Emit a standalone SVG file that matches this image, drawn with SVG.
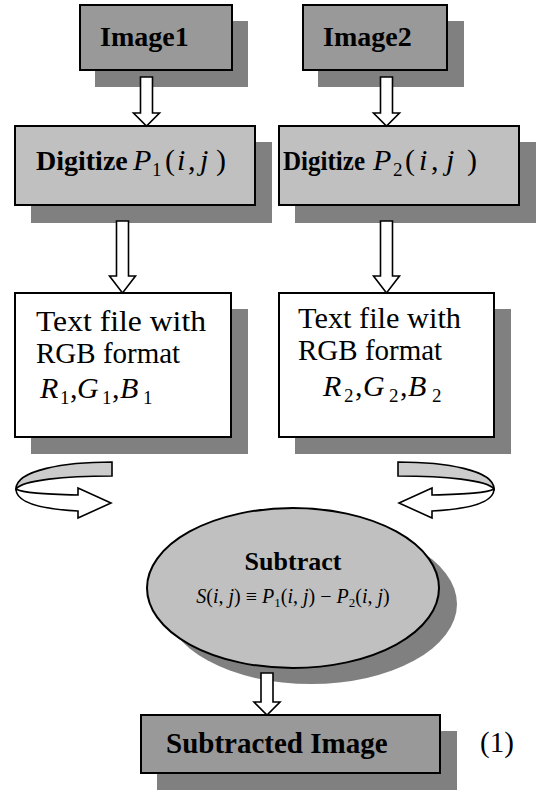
<svg xmlns="http://www.w3.org/2000/svg" width="546" height="812" viewBox="0 0 546 812">
<style>
.shd{fill:#808080;stroke:none}
.dk{fill:#999999;stroke:#000;stroke-width:2}
.lt{fill:#c0c0c0;stroke:#000;stroke-width:2}
.wh{fill:#fff;stroke:#000;stroke-width:2}
.arr{fill:#fff;stroke:#000;stroke-width:1.6;stroke-linejoin:miter}
.band{fill:#cccccc;stroke:#000;stroke-width:1.6}
.b{font-weight:bold;font-size:28px}
.r{font-size:29px}
.m{font-size:30px;font-style:italic}
.mu{font-size:30px;font-style:normal}
.s{font-size:19px;font-style:normal}
</style>
<rect width="546" height="812" fill="#fff"/>
<g font-family="'Liberation Serif', 'DejaVu Serif', serif" fill="#000">
<g id="image1">
<rect class="shd" x="95" y="21" width="153" height="66"/>
<rect class="dk" x="80" y="5" width="152" height="65"/>
<text class="b" x="100" y="46">Image1</text>
</g>
<g id="image2">
<rect class="shd" x="318" y="21" width="146" height="66"/>
<rect class="dk" x="303" y="5" width="144" height="65"/>
<text class="b" x="323" y="46">Image2</text>
</g>
<g id="digitize1">
<rect class="shd" x="31" y="142" width="241" height="81"/>
<rect class="lt" x="15" y="126" width="240" height="79"/>
<text y="170"><tspan class="b" x="36">Digitize</tspan><tspan class="m" x="133">P</tspan><tspan class="s" x="152" dy="6">1</tspan><tspan class="mu" x="165" dy="-6">(</tspan><tspan class="m" x="177">i</tspan><tspan class="mu" x="188">,</tspan><tspan class="m" x="200">j</tspan><tspan class="mu" x="216">)</tspan></text>
</g>
<g id="digitize2">
<rect class="shd" x="295" y="142" width="241" height="81"/>
<rect class="lt" x="279" y="126" width="240" height="79"/>
<text class="b" x="283" y="170" textLength="82" lengthAdjust="spacingAndGlyphs">Digitize</text>
<text y="170"><tspan class="m" x="373">P</tspan><tspan class="s" x="393" dy="6">2</tspan><tspan class="mu" x="405" dy="-6">(</tspan><tspan class="m" x="419">i</tspan><tspan class="mu" x="431">,</tspan><tspan class="m" x="446">j</tspan><tspan class="mu" x="467">)</tspan></text>
</g>
<g id="textfile1">
<rect class="shd" x="31" y="309" width="217" height="145"/>
<rect class="wh" x="15" y="293" width="216" height="144"/>
<text class="r" x="36" y="331" textLength="170" lengthAdjust="spacingAndGlyphs">Text file with</text>
<text class="r" x="36" y="363">RGB format</text>
<text y="398"><tspan class="m" x="40">R</tspan><tspan class="s" x="60" dy="6">1</tspan><tspan class="mu" x="70" dy="-6">,</tspan><tspan class="m" x="77">G</tspan><tspan class="s" x="102" dy="6">1</tspan><tspan class="mu" x="112" dy="-6">,</tspan><tspan class="m" x="120">B</tspan><tspan class="s" x="143" dy="6">1</tspan></text>
</g>
<g id="textfile2">
<rect class="shd" x="295" y="309" width="216" height="145"/>
<rect class="wh" x="279" y="293" width="215" height="144"/>
<text class="r" x="298" y="328" textLength="163" lengthAdjust="spacingAndGlyphs">Text file with</text>
<text class="r" x="298" y="360">RGB format</text>
<text y="396"><tspan class="m" x="323">R</tspan><tspan class="s" x="344" dy="6">2</tspan><tspan class="mu" x="355" dy="-6">,</tspan><tspan class="m" x="363">G</tspan><tspan class="s" x="389" dy="6">2</tspan><tspan class="mu" x="400" dy="-6">,</tspan><tspan class="m" x="408">B</tspan><tspan class="s" x="432" dy="6">2</tspan></text>
</g>
<g id="subtract">
<ellipse class="shd" cx="311" cy="604" rx="146" ry="80"/>
<ellipse class="lt" cx="293" cy="588" rx="146" ry="80"/>
<text class="b" x="293" y="570" text-anchor="middle" style="font-size:26px">Subtract</text>
<text x="293" y="603" text-anchor="middle" style="font-size:20px"><tspan font-style="italic">S</tspan><tspan>(</tspan><tspan font-style="italic">i</tspan><tspan>, </tspan><tspan font-style="italic">j</tspan><tspan>) ≡ </tspan><tspan font-style="italic">P</tspan><tspan dy="4" style="font-size:13px">1</tspan><tspan dy="-4">(</tspan><tspan font-style="italic">i</tspan><tspan>, </tspan><tspan font-style="italic">j</tspan><tspan>) − </tspan><tspan font-style="italic">P</tspan><tspan dy="4" style="font-size:13px">2</tspan><tspan dy="-4">(</tspan><tspan font-style="italic">i</tspan><tspan>, </tspan><tspan font-style="italic">j</tspan><tspan>)</tspan></text>
</g>
<g id="subtracted-image">
<rect class="shd" x="157" y="731" width="300" height="59"/>
<rect class="dk" x="141" y="715" width="299" height="58"/>
<text class="b" x="166" y="753" style="font-size:29px">Subtracted Image</text>
</g>
<g id="label">
<text class="r" x="480" y="752">(1)</text>
</g>
</g>
<g id="connectors">
<path class="arr" d="M140.5,77 H152.5 V113 H159.5 L146.5,126 L133.5,113 H140.5 Z"/>
<path class="arr" d="M380.5,77 H392.5 V113 H399.5 L386.5,126 L373.5,113 H380.5 Z"/>
<path class="arr" d="M116.5,221 H128.5 V276 H135.5 L122.5,293 L109.5,276 H116.5 Z"/>
<path class="arr" d="M380.5,221 H392.5 V276 H399.5 L386.5,293 L373.5,276 H380.5 Z"/>
<path class="arr" d="M261,673 H273 V702 H280 L267,715 L254,702 H261 Z"/>
<g id="curve-right">
<path class="arr" d="M494,489 C494,502 470,509 432,511 L432,518 L399,503 L432,488 L432,495 C465,494 488,493 494,489 Z"/>
<path class="band" d="M398,462 C445,462 494,470 494,489 C487,480 445,476 398,476 Z"/>
</g>
<g id="curve-left" transform="matrix(-1 0 0 1 510 0)">
<path class="arr" d="M494,489 C494,502 470,509 432,511 L432,518 L399,503 L432,488 L432,495 C465,494 488,493 494,489 Z"/>
<path class="band" d="M398,462 C445,462 494,470 494,489 C487,480 445,476 398,476 Z"/>
</g>
</g>
</svg>
